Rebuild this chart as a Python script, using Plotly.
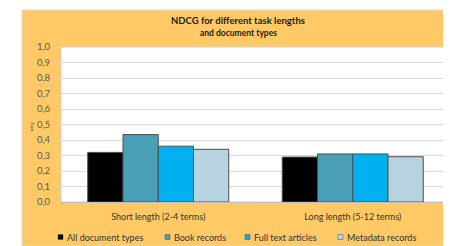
import plotly.graph_objects as go

categories = ["Short length (2-4 terms)", "Long length (5-12 terms)"]
series_names = ["All document types", "Book records", "Full text articles", "Metadata records"]
all_docs = [0.32, 0.29]
book_records = [0.435, 0.31]
full_text = [0.36, 0.31]
metadata = [0.34, 0.292]
y_ticks = [0.0, 0.1, 0.2, 0.3, 0.4, 0.5, 0.6, 0.7, 0.8, 0.9, 1.0]

colors = ["#000000", "#4A9FB6", "#00B0F0", "#B7D3DF"]
values = [all_docs, book_records, full_text, metadata]

OFF = 8  # page body margin
W, H = 451 - OFF, 246 - OFF
# plot area in screen pixels
SX0, SX1, SY0, SY1 = 61, 450, 47, 202
L = SX0 - OFF
R = W - (SX1 - OFF)
T = SY0 - OFF
B = H - (SY1 - OFF)
pw, ph = SX1 - SX0, SY1 - SY0

def px(x):
    return (x - SX0) / pw

def py(y):
    return (SY1 - y) / ph

FONT = "Lato"

fig = go.Figure()
for name, vals, col in zip(series_names, values, colors):
    fig.add_trace(go.Bar(
        x=categories, y=vals, name=name,
        marker=dict(color=col, line=dict(color="#4d4d4d", width=1)),
        showlegend=False,
    ))

shapes = [
    dict(type="rect", xref="paper", yref="paper", x0=px(22), x1=px(450.5), y0=py(246), y1=py(10),
         fillcolor="#FFCA66", line=dict(color="#d9d9d9", width=1), layer="below"),
    dict(type="rect", xref="paper", yref="paper", x0=0, x1=1, y0=0, y1=1,
         fillcolor="#ffffff", line=dict(color="#d0d0d0", width=1), layer="below"),
]

annotations = [
    dict(text="<b>NDCG for different task lengths</b>", x=px(238), y=py(20), xref="paper", yref="paper",
         showarrow=False, font=dict(family=FONT, size=9.5, color="#1a1a1a"), xanchor="center", yanchor="middle"),
    dict(text="<b>and document types</b>", x=px(238.5), y=py(32.5), xref="paper", yref="paper",
         showarrow=False, font=dict(family=FONT, size=8.5, color="#1a1a1a"), xanchor="center", yanchor="middle"),
    dict(text="ndcg", x=px(31), y=py(127), xref="paper", yref="paper", textangle=-90,
         showarrow=False, font=dict(family=FONT, size=4, color="#404040"), xanchor="center", yanchor="middle"),
]

# manual legend
leg_sq = [58, 165, 245, 338]
for name, col, sx in zip(series_names, colors, leg_sq):
    shapes.append(dict(type="rect", xref="paper", yref="paper", x0=px(sx), x1=px(sx + 5),
                       y0=py(239.5), y1=py(234.5), fillcolor=col,
                       line=dict(color="#4d4d4d", width=0.5)))
    annotations.append(dict(text=name, x=px(sx + 7), y=py(237), xref="paper", yref="paper",
                            showarrow=False, xanchor="left", yanchor="middle",
                            font=dict(family=FONT, size=9, color="#333333")))

fig.update_layout(
    width=W, height=H,
    margin=dict(l=L, r=R, t=T, b=B, pad=0),
    paper_bgcolor="#ffffff",
    plot_bgcolor="#ffffff",
    separators=", ",
    barmode="group",
    bargap=0.275,
    bargroupgap=0,
    font=dict(family=FONT, size=9, color="#404040"),
    shapes=shapes,
    annotations=annotations,
    xaxis=dict(
        showgrid=False, showline=True, linecolor="#bfbfbf", linewidth=1,
        ticks="outside", ticklen=3, tickcolor="#bfbfbf", tickson="boundaries",
        tickfont=dict(family=FONT, size=9, color="#333333"), ticklabelstandoff=6,
    ),
    yaxis=dict(
        range=[0, 1.0], tickvals=y_ticks, tickformat=".1f",
        showgrid=True, gridcolor="#d9d9d9", gridwidth=1,
        ticks="outside", ticklen=3, tickcolor="#d9d9d9",
        zeroline=False, showline=False,
        tickfont=dict(family=FONT, size=9.5, color="#595959"), ticklabelstandoff=5,
    ),
)

fig.write_html("out.html")
